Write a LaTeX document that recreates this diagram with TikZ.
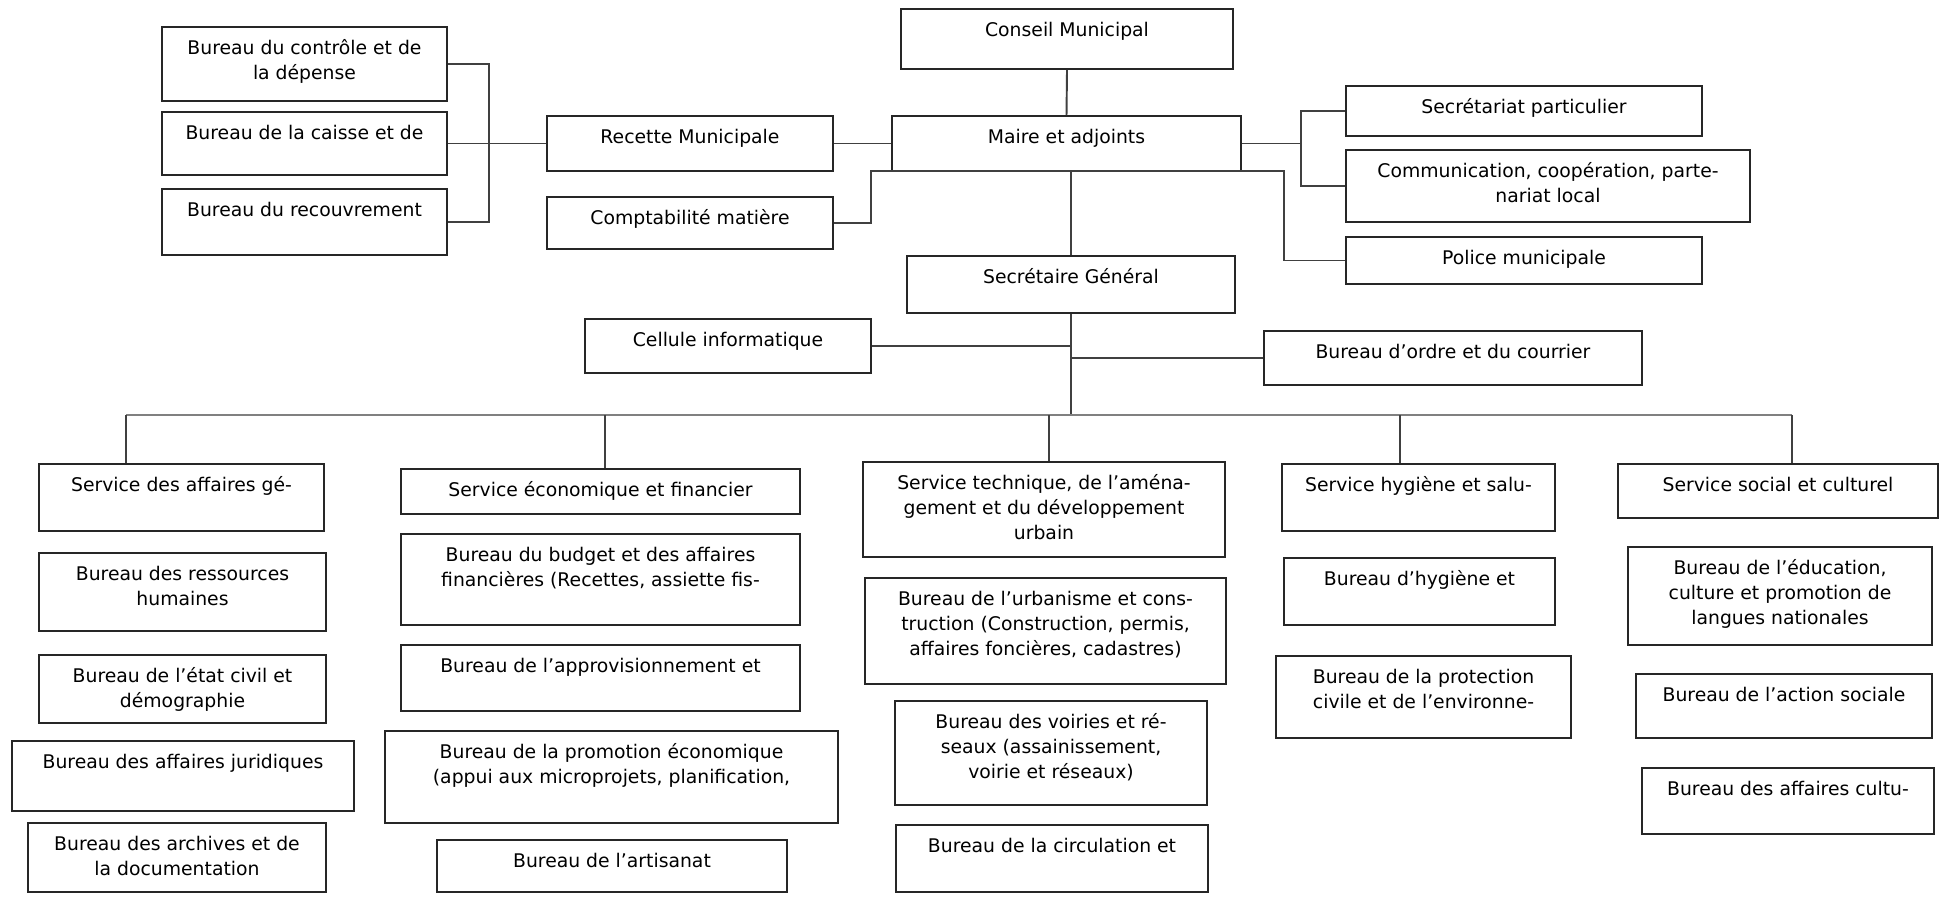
\documentclass[tikz,border=0pt]{standalone}
\usepackage{fontspec}
\setmainfont{DejaVu Sans}

\tikzset{
  bx/.style={draw=black!85, line width=1.1pt, inner sep=0pt},
  tx/.style={anchor=north, yshift=-0.27cm, align=center, inner sep=0pt,
             font=\fontsize{10.7}{14.2}\selectfont},
  ln/.style={draw=black!75, line width=1.1pt},
  bus/.style={draw=black!50, line width=1.4pt},
}

\begin{document}
\begin{tikzpicture}[x=0.02cm, y=-0.02cm]
            \useasboundingbox (0,0) rectangle (1942,897);

            % recette et bureaux
            \node[bx, minimum width=5.70cm, minimum height=1.48cm] (ctrl) at (304.5,64) {};
            \node[tx] (ctrl-t) at (ctrl.north) {Bureau du contrôle et de\\la dépense};
            \node[bx, minimum width=5.70cm, minimum height=1.26cm] (caisse) at (304.5,143.5) {};
            \node[tx] (caisse-t) at (caisse.north) {Bureau de la caisse et de};
            \node[bx, minimum width=5.70cm, minimum height=1.32cm] (recouv) at (304.5,222) {};
            \node[tx] (recouv-t) at (recouv.north) {Bureau du recouvrement};
            \node[bx, minimum width=5.72cm, minimum height=1.10cm] (recette) at (690,143.5) {};
            \node[tx] (recette-t) at (recette.north) {Recette Municipale};
            \node[bx, minimum width=5.72cm, minimum height=1.04cm] (compta) at (690,223) {};
            \node[tx] (compta-t) at (compta.north) {Comptabilité matière};

            % mairie
            \node[bx, minimum width=6.64cm, minimum height=1.20cm] (conseil) at (1067,39) {};
            \node[tx] (conseil-t) at (conseil.north) {Conseil Municipal};
            \node[bx, minimum width=6.98cm, minimum height=1.10cm] (maire) at (1066.5,143.5) {};
            \node[tx] (maire-t) at (maire.north) {Maire et adjoints};
            \node[bx, minimum width=6.56cm, minimum height=1.14cm] (sg) at (1071,284.5) {};
            \node[tx] (sg-t) at (sg.north) {Secrétaire Général};
            \node[bx, minimum width=7.12cm, minimum height=1.00cm] (secpart) at (1524,111) {};
            \node[tx] (secpart-t) at (secpart.north) {Secrétariat particulier};
            \node[bx, minimum width=8.08cm, minimum height=1.44cm] (comm) at (1548,186) {};
            \node[tx] (comm-t) at (comm.north) {Communication, coopération, parte-\\nariat local};
            \node[bx, minimum width=7.12cm, minimum height=0.94cm] (police) at (1524,260.5) {};
            \node[tx] (police-t) at (police.north) {Police municipale};
            \node[bx, minimum width=5.72cm, minimum height=1.08cm] (cellule) at (728,346) {};
            \node[tx] (cellule-t) at (cellule.north) {Cellule informatique};
            \node[bx, minimum width=7.56cm, minimum height=1.08cm] (ordre) at (1453,358) {};
            \node[tx] (ordre-t) at (ordre.north) {Bureau d’ordre et du courrier};

            % services
            \node[bx, minimum width=5.70cm, minimum height=1.34cm] (sag) at (181.5,497.5) {};
            \node[tx] (sag-t) at (sag.north) {Service des affaires gé-};
            \node[bx, minimum width=7.98cm, minimum height=0.90cm] (seco) at (600.5,491.5) {};
            \node[tx] (seco-t) at (seco.north) {Service économique et financier};
            \node[bx, minimum width=7.24cm, minimum height=1.90cm] (stech) at (1044,509.5) {};
            \node[tx] (stech-t) at (stech.north) {Service technique, de l’aména-\\gement et du développement\\urbain};
            \node[bx, minimum width=5.46cm, minimum height=1.34cm] (shyg) at (1418.5,497.5) {};
            \node[tx] (shyg-t) at (shyg.north) {Service hygiène et salu-};
            \node[bx, minimum width=6.40cm, minimum height=1.08cm] (ssoc) at (1778,491) {};
            \node[tx] (ssoc-t) at (ssoc.north) {Service social et culturel};

            % bureaux des affaires generales
            \node[bx, minimum width=5.74cm, minimum height=1.56cm] (rh) at (182.5,592) {};
            \node[tx] (rh-t) at (rh.north) {Bureau des ressources\\humaines};
            \node[bx, minimum width=5.74cm, minimum height=1.36cm] (ec) at (182.5,689) {};
            \node[tx] (ec-t) at (ec.north) {Bureau de l’état civil et\\démographie};
            \node[bx, minimum width=6.84cm, minimum height=1.40cm] (jur) at (183,776) {};
            \node[tx] (jur-t) at (jur.north) {Bureau des affaires juridiques};
            \node[bx, minimum width=5.96cm, minimum height=1.38cm] (arch) at (177,857.5) {};
            \node[tx] (arch-t) at (arch.north) {Bureau des archives et de\\la documentation};

            % bureaux economiques
            \node[bx, minimum width=7.98cm, minimum height=1.82cm] (budget) at (600.5,579.5) {};
            \node[tx] (budget-t) at (budget.north) {Bureau du budget et des affaires\\financières (Recettes, assiette fis-};
            \node[bx, minimum width=7.98cm, minimum height=1.32cm] (appro) at (600.5,678) {};
            \node[tx] (appro-t) at (appro.north) {Bureau de l’approvisionnement et};
            \node[bx, minimum width=9.06cm, minimum height=1.84cm] (promo) at (611.5,777) {};
            \node[tx] (promo-t) at (promo.north) {Bureau de la promotion économique\\(appui aux microprojets, planification,};
            \node[bx, minimum width=7.00cm, minimum height=1.04cm] (artis) at (612,866) {};
            \node[tx] (artis-t) at (artis.north) {Bureau de l’artisanat};

            % bureaux techniques
            \node[bx, minimum width=7.22cm, minimum height=2.12cm] (urba) at (1045.5,631) {};
            \node[tx] (urba-t) at (urba.north) {Bureau de l’urbanisme et cons-\\truction (Construction, permis,\\affaires foncières, cadastres)};
            \node[bx, minimum width=6.24cm, minimum height=2.08cm] (voir) at (1051,753) {};
            \node[tx] (voir-t) at (voir.north) {Bureau des voiries et ré-\\seaux (assainissement,\\voirie et réseaux)};
            \node[bx, minimum width=6.24cm, minimum height=1.34cm] (circ) at (1052,858.5) {};
            \node[tx] (circ-t) at (circ.north) {Bureau de la circulation et};

            % hygiene
            \node[bx, minimum width=5.42cm, minimum height=1.34cm] (bhyg) at (1419.5,591.5) {};
            \node[tx] (bhyg-t) at (bhyg.north) {Bureau d’hygiène et};
            \node[bx, minimum width=5.90cm, minimum height=1.64cm] (prot) at (1423.5,697) {};
            \node[tx] (prot-t) at (prot.north) {Bureau de la protection\\civile et de l’environne-};

            % social
            \node[bx, minimum width=6.08cm, minimum height=1.96cm] (educ) at (1780,596) {};
            \node[tx] (educ-t) at (educ.north) {Bureau de l’éducation,\\culture et promotion de\\langues nationales};
            \node[bx, minimum width=5.92cm, minimum height=1.28cm] (asoc) at (1784,706) {};
            \node[tx] (asoc-t) at (asoc.north) {Bureau de l’action sociale};
            \node[bx, minimum width=5.84cm, minimum height=1.32cm] (acult) at (1788,801) {};
            \node[tx] (acult-t) at (acult.north) {Bureau des affaires cultu-};

            % liaisons du haut
            \draw[ln] (ctrl.east) -- ++(41,0) |- (recouv.east);
            \draw[ln] (caisse.east) -- (recette.west);
            \draw[ln] (recette.east) -- (maire.west);
            \draw[ln] (conseil.south) -- (maire.north);
            \coordinate (ml) at (871,171);
            \coordinate (mr) at (1284,171);
            \draw[ln] (compta.east) -| (ml) -- (mr) |- (police.west);
            \draw[ln] (sg.north) -- (sg.north |- maire.south);
            \draw[ln] (maire.east) -- ++(59,0) coordinate (rb);
            \draw[ln] (secpart.west) -| (rb) |- (comm.west);

            % liaisons du secretariat
            \coordinate (busl) at (126,415);
            \coordinate (busr) at (1792,415);
            \draw[ln] (sg.south) -- (sg.south |- busl);
            \draw[ln] (cellule.east) -- (cellule.east -| sg.south);
            \draw[ln] (ordre.west) -- (ordre.west -| sg.south);
            \draw[bus] (busl) -- (busr);
            \foreach \x/\n in {126/sag, 605/seco, 1049/stech, 1400/shyg, 1792/ssoc}
               \draw[ln] (\x,415) -- (\x,415 |- \n.north);
         \end{tikzpicture}
\end{document}
